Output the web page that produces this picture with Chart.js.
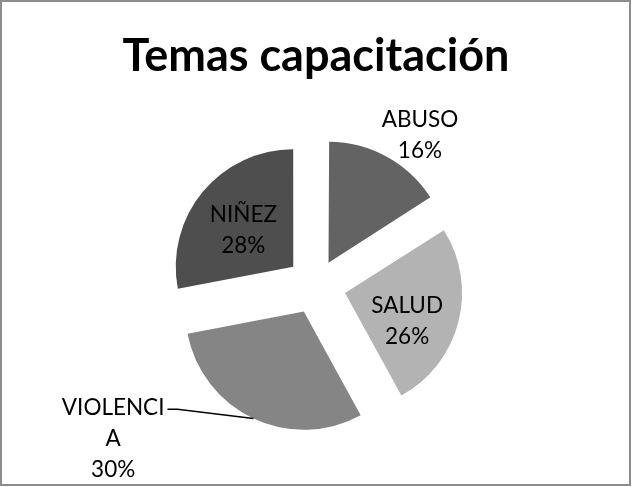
<!DOCTYPE html>
<html>
<head>
<meta charset="utf-8">
<script src="https://cdn.jsdelivr.net/npm/chart.js@4.4.1/dist/chart.umd.min.js"></script>
<style>
  html, body { margin: 0; padding: 0; background: #ffffff; }
  #wrap { position: relative; width: 632px; height: 487px; }
</style>
</head>
<body>
<div id="wrap"><canvas id="c" width="632" height="487"></canvas></div>
<script>
// ---- data ----
const chartTitle = 'Temas capacitación';
const categories = ['ABUSO', 'SALUD', 'VIOLENCIA', 'NIÑEZ'];
const values = [16, 26, 30, 28];

// ---- styles ----
const sliceColors = ['#636363', '#b3b3b3', '#858585', '#4e4e4e'];
const explodeDistance = 30;   // pixels each slice is pulled out
const pieRadius = 117;
// label placement relative to slice mid angle (deg) and distance from pie centre (px)
const labelLayout = [
  { da: 5.8, r: 183, breakAt: 0, leader: false },
  { da: 7.2, r: 98, breakAt: 0, leader: false },
  { da: 27.8, r: 254, breakAt: 8, leader: true },
  { da: -2.6, r: 91, breakAt: 0, leader: false }
];
const labelFont = '22.5px Lato';
const labelLineHeight = 31;

const total = values.reduce((a, b) => a + b, 0);

const frame = {
  id: 'frame',
  afterDraw(chart) {
    const ctx = chart.ctx;
    ctx.save();
    ctx.strokeStyle = '#8c8c8c';
    ctx.lineWidth = 2;
    ctx.strokeRect(1, 1, 629, 484);
    ctx.restore();
  }
};

const pieLabels = {
  id: 'pieLabels',
  afterDatasetsDraw(chart) {
    const ctx = chart.ctx;
    const meta = chart.getDatasetMeta(0);
    ctx.save();
    ctx.font = labelFont;
    ctx.fillStyle = '#000000';
    ctx.textAlign = 'center';
    ctx.textBaseline = 'middle';
    meta.data.forEach((arc, i) => {
      const lay = labelLayout[i];
      const mid = (arc.startAngle + arc.endAngle) / 2;
      const a = mid + lay.da * Math.PI / 180;
      const cx = arc.x + Math.cos(a) * lay.r;
      const cy = arc.y + Math.sin(a) * lay.r;
      const name = categories[i];
      const lines = lay.breakAt > 0 ? [name.slice(0, lay.breakAt), name.slice(lay.breakAt)] : [name];
      lines.push(Math.round(values[i] / total * 100) + '%');
      const y0 = cy - (lines.length - 1) * labelLineHeight / 2;
      lines.forEach((t, k) => ctx.fillText(t, cx, y0 + k * labelLineHeight));
      if (lay.leader) {
        const edgeR = arc.outerRadius + explodeDistance;
        const ex = arc.x + Math.cos(mid) * edgeR;
        const ey = arc.y + Math.sin(mid) * edgeR;
        const w = ctx.measureText(lines[0]).width;
        const tx = cx + w / 2 + 3;
        const ty = y0 + 2;
        ctx.beginPath();
        ctx.strokeStyle = '#000000';
        ctx.lineWidth = 1.5;
        ctx.moveTo(ex, ey);
        ctx.lineTo(tx + 10, ty);
        ctx.lineTo(tx, ty);
        ctx.stroke();
      }
    });
    ctx.restore();
  }
};

function explodeOffset(context) {
  const v = context.raw;
  const circ = v / total * Math.PI * 2;
  const fix = 1 - Math.sin(Math.min(Math.PI, circ));
  return 4 * explodeDistance / (1 + fix);
}

new Chart(document.getElementById('c'), {
  type: 'pie',
  data: {
    labels: categories,
    datasets: [{
      data: values,
      backgroundColor: sliceColors,
      borderWidth: 0,
      offset: explodeOffset,
      hoverOffset: explodeOffset
    }]
  },
  options: {
    responsive: false,
    animation: false,
    events: [],
    radius: pieRadius,
    layout: { padding: { left: 20, right: 20, top: 0, bottom: 6 } },
    plugins: {
      legend: { display: false },
      tooltip: { enabled: false },
      title: {
        display: true,
        text: chartTitle,
        color: '#000000',
        font: { family: 'Lato', size: 45, weight: 'bold', lineHeight: 1.2 },
        padding: { top: 29, bottom: 7 }
      }
    }
  },
  plugins: [frame, pieLabels]
});
</script>
</body>
</html>
